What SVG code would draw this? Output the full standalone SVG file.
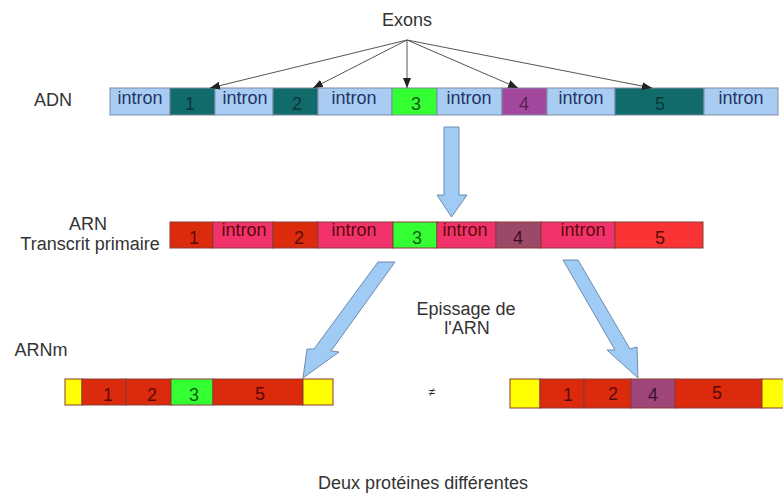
<svg xmlns="http://www.w3.org/2000/svg" width="783" height="493" viewBox="0 0 783 493">
<defs>
<style>
text{font-family:"Liberation Sans",Arial,sans-serif;font-size:18px;text-anchor:middle}
.lbl{fill:#333}
.seg{stroke:#7a8ea5;stroke-width:1}
.rseg{stroke:#8a3a3a;stroke-width:1}
.ib{fill:#a9cdf2}
.tl{fill:#126b6b}
.gr{fill:#33ff33}
.pu{fill:#a3489c}
.rd{fill:#dc2a0c}
.pk{fill:#f2336b}
.mv{fill:#9c4868}
.r5{fill:#fa3434}
.ye{fill:#ffff00}
.it{fill:#1f3366}
.dt{fill:#0a3838}
.rt{fill:#5a0a0a}
.big{fill:#9fcbf5;stroke:#6d8cac;stroke-width:1}
.ex{stroke:#555;stroke-width:1;fill:none;marker-end:url(#ah)}
</style>
<marker id="ah" markerUnits="userSpaceOnUse" markerWidth="10" markerHeight="8" refX="10" refY="4" orient="auto">
<path d="M0,0 L10,4 L0,8 z" fill="#222"/>
</marker>
</defs>
<rect width="783" height="493" fill="#fff"/>

<g id="label-exons"><text class="lbl" x="407" y="26">Exons</text></g>
<g id="label-adn"><text class="lbl" x="53" y="106">ADN</text></g>
<g id="label-arn"><text class="lbl" x="88" y="230">ARN</text><text class="lbl" x="90" y="250">Transcrit primaire</text></g>
<g id="label-arnm"><text class="lbl" x="41" y="356">ARNm</text></g>
<g id="label-epissage"><text class="lbl" x="466" y="315">Epissage de</text><text class="lbl" x="467" y="334">l'ARN</text></g>
<g id="label-neq"><text class="lbl" x="432" y="396" style="font-size:12px">≠</text></g>
<g id="label-proteines"><text class="lbl" x="423" y="489">Deux protéines différentes</text></g>

<g id="adn">
<rect class="seg ib" x="110" y="88" width="60" height="27"/>
<rect class="seg tl" x="170" y="88" width="45" height="27"/>
<rect class="seg ib" x="215" y="88" width="58" height="27"/>
<rect class="seg tl" x="273" y="88" width="45" height="27"/>
<rect class="seg ib" x="318" y="88" width="74" height="27"/>
<rect class="seg gr" x="392" y="88" width="45" height="27"/>
<rect class="seg ib" x="437" y="88" width="65" height="27"/>
<rect class="seg pu" x="502" y="88" width="45" height="27"/>
<rect class="seg ib" x="547" y="88" width="68" height="27"/>
<rect class="seg tl" x="615" y="88" width="89" height="27"/>
<rect class="seg ib" x="704" y="88" width="74" height="27"/>
<text class="it" x="140" y="104">intron</text>
<text class="dt" x="190" y="110">1</text>
<text class="it" x="245" y="104">intron</text>
<text class="dt" x="297" y="110">2</text>
<text class="it" x="354" y="104">intron</text>
<text x="416" y="110" fill="#125a12">3</text>
<text class="it" x="469" y="104">intron</text>
<text x="524" y="110" fill="#5a1d55">4</text>
<text class="it" x="581" y="104">intron</text>
<text class="dt" x="660" y="110">5</text>
<text class="it" x="741" y="104">intron</text>
</g>

<g id="arn">
<rect class="rseg rd" x="170" y="222" width="43" height="26"/>
<rect class="rseg pk" x="213" y="222" width="60" height="26"/>
<rect class="rseg rd" x="273" y="222" width="45" height="26"/>
<rect class="rseg pk" x="318" y="222" width="75" height="26"/>
<rect class="rseg gr" x="393" y="222" width="44" height="26"/>
<rect class="rseg pk" x="437" y="222" width="59" height="26"/>
<rect class="rseg mv" x="496" y="222" width="45" height="26"/>
<rect class="rseg pk" x="541" y="222" width="74" height="26"/>
<rect class="rseg r5" x="615" y="222" width="88" height="26"/>
<text class="rt" x="194" y="244">1</text>
<text class="rt" x="244" y="236">intron</text>
<text class="rt" x="299" y="244">2</text>
<text class="rt" x="354" y="236">intron</text>
<text x="417" y="244" fill="#125a12">3</text>
<text class="rt" x="465" y="236">intron</text>
<text x="518" y="244" fill="#3a1020">4</text>
<text class="rt" x="583" y="236">intron</text>
<text class="rt" x="660" y="244">5</text>
</g>

<g id="arnm-1">
<rect class="rseg ye" x="65" y="379" width="17" height="26"/>
<rect class="rseg rd" x="82" y="379" width="44" height="26"/>
<rect class="rseg rd" x="126" y="379" width="45" height="26"/>
<rect class="rseg gr" x="171" y="379" width="42" height="26"/>
<rect class="rseg rd" x="213" y="379" width="90" height="26"/>
<rect class="rseg ye" x="303" y="379" width="30" height="26"/>
<text class="rt" x="108" y="401">1</text>
<text class="rt" x="152" y="401">2</text>
<text x="194" y="401" fill="#125a12">3</text>
<text class="rt" x="260" y="400">5</text>
</g>

<g id="arnm-2">
<rect class="rseg ye" x="510" y="379" width="30" height="29"/>
<rect class="rseg rd" x="540" y="379" width="44" height="29"/>
<rect class="rseg rd" x="584" y="379" width="47" height="29"/>
<rect class="rseg" x="631" y="379" width="44" height="29" fill="#a0457a"/>
<rect class="rseg rd" x="675" y="379" width="87" height="29"/>
<rect class="rseg ye" x="762" y="379" width="30" height="29"/>
<text class="rt" x="568" y="401">1</text>
<text class="rt" x="613" y="400">2</text>
<text x="653" y="401" fill="#3a1030">4</text>
<text class="rt" x="717" y="399">5</text>
</g>

<g id="connectors">
<line class="ex" x1="407" y1="40" x2="210" y2="88"/>
<line class="ex" x1="407" y1="40" x2="313" y2="88"/>
<line class="ex" x1="407" y1="40" x2="407" y2="88"/>
<line class="ex" x1="407" y1="40" x2="518" y2="88"/>
<line class="ex" x1="407" y1="40" x2="652" y2="88"/>
<polygon class="big" points="444,127 459,127 459,195 467,195 451.5,217 437,195 444,195"/>
<polygon class="big" points="378,262 395,262 331,351 339,352 303,378 307,349 314,349"/>
<polygon class="big" points="563,260 578,260 630,349 637,347 638,378 607,350 615,350"/>
</g>
</svg>
